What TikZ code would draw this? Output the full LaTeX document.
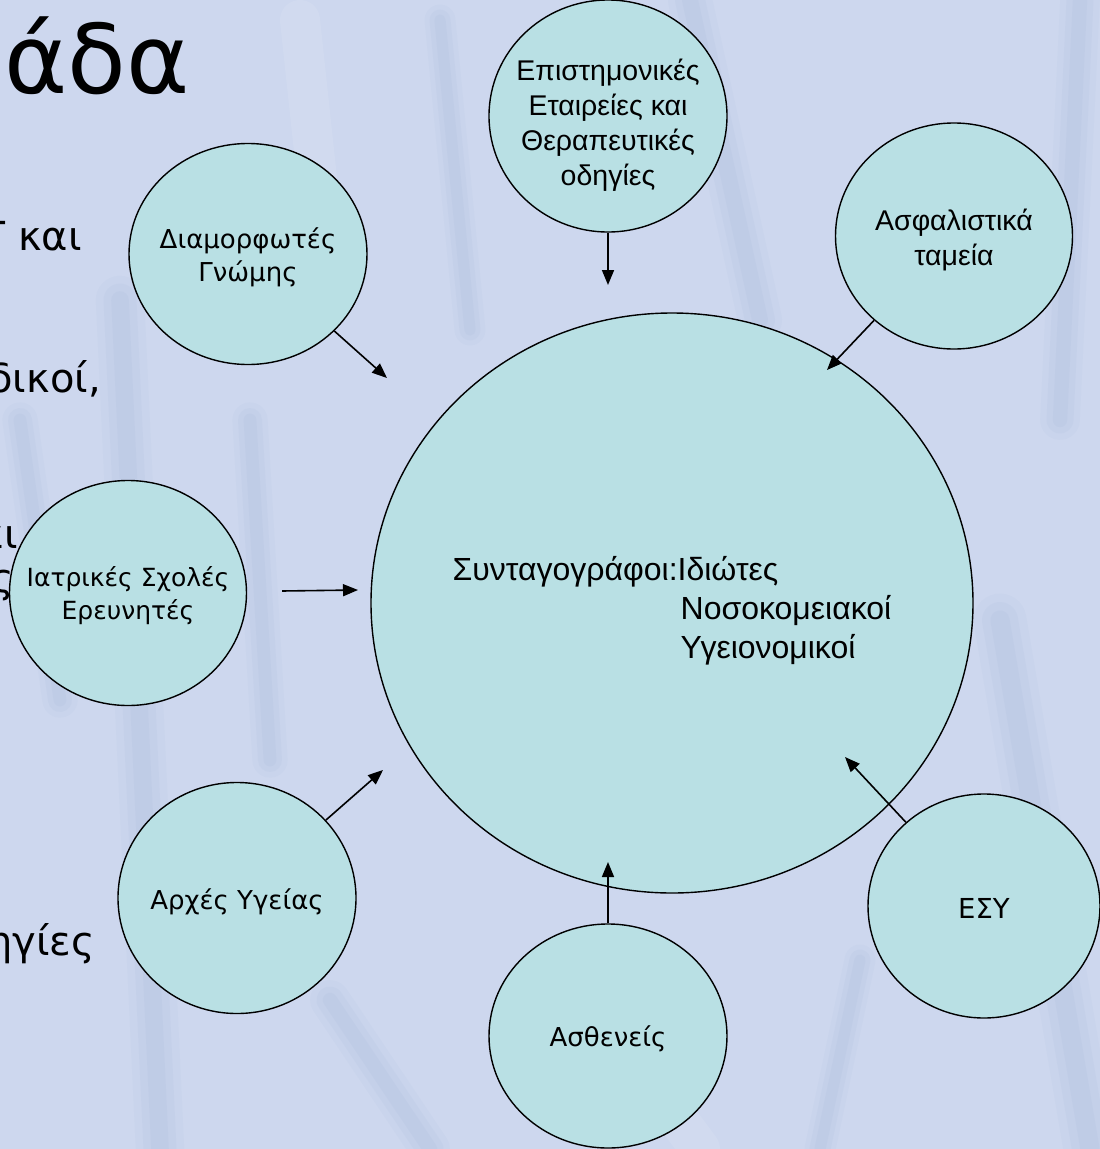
\documentclass[tikz,border=0pt]{standalone}
\usepackage{fontspec}
\setmainfont{Liberation Sans}
\newfontfamily\hum{DejaVu Sans}
\usetikzlibrary{shapes.geometric,arrows.meta}
\definecolor{bgc}{RGB}{205,215,238}
\definecolor{streakc}{RGB}{140,165,205}
\definecolor{lightc}{RGB}{222,230,244}
\definecolor{cfill}{RGB}{185,224,228}
\newcommand{\softstreak}[3]{%
  \draw[draw=streakc,line cap=round,opacity=0.06,line width=#3*2.2] #1 -- #2;
  \draw[draw=streakc,line cap=round,opacity=0.07,line width=#3*1.5] #1 -- #2;
  \draw[draw=streakc,line cap=round,opacity=0.08,line width=#3*0.8] #1 -- #2;}
\begin{document}
\begin{tikzpicture}[x=1pt,y=-1pt,
  bub/.style={ellipse,draw=black,line width=1.4pt,fill=cfill,inner sep=0pt},
  lbl/.style={align=center,inner sep=0pt},
  arial/.style={lbl,font=\fontsize{28.5}{35}\selectfont},
  humf/.style={lbl,font=\hum\fontsize{26}{33}\selectfont},
  arr/.style={line width=1.6pt,-{Triangle[length=15pt,width=12pt]}},
  bgtxt/.style={font=\hum\fontsize{40}{48}\selectfont,inner sep=0pt,text=black}
]
\useasboundingbox (0,0) rectangle (1100,1149);
\fill[bgc] (0,0) rectangle (1100,1149);
\begin{scope}
\clip (0,0) rectangle (1100,1149);
% soft background texture
\softstreak{(120,300)}{(160,1149)}{22pt}
\softstreak{(250,420)}{(270,760)}{16pt}
\softstreak{(690,0)}{(760,320)}{20pt}
\softstreak{(1080,0)}{(1060,420)}{18pt}
\softstreak{(1000,620)}{(1090,1149)}{24pt}
\softstreak{(330,1000)}{(430,1149)}{18pt}
\softstreak{(860,960)}{(820,1149)}{14pt}
\softstreak{(440,20)}{(470,330)}{14pt}
\softstreak{(20,420)}{(60,700)}{16pt}
\draw[draw=lightc,line width=40pt,opacity=0.25,line cap=round] (300,20) -- (330,300);
\draw[draw=lightc,line width=40pt,opacity=0.25,line cap=round] (560,960) -- (700,1149);
% partial slide text behind the diagram
\node[anchor=base east,font=\hum\fontsize{96}{100}\selectfont,inner sep=0pt] (s0) at (190,93) {άδα};
\node[bgtxt,anchor=base east] (s1) at (82,250) {Γ και};
\node[bgtxt,anchor=base east] (s2) at (101,392) {δικοί,};
\node[bgtxt,anchor=base east] (s3) at (18,548) {και};
\node[bgtxt,anchor=base east] (s4) at (14,592) {ς};
\node[bgtxt,anchor=base east] (s5) at (95,955) {ηγίες};
\end{scope}

% central circle
\node[bub,minimum width=602pt,minimum height=580pt,
  label={[lbl,font=\fontsize{32}{39}\selectfont,align=left,yshift=-8pt]center:Συνταγογράφοι:Ιδιώτες\\\hspace*{228pt}Νοσοκομειακοί\\\hspace*{228pt}Υγειονομικοί}] (c) at (672,603) {};

% surrounding circles
\node[bub,minimum width=238pt,minimum height=232pt,
  label={[arial,yshift=-9pt]center:Επιστημονικές\\Εταιρείες και\\Θεραπευτικές\\οδηγίες}] (epi) at (608,116) {};
\node[bub,minimum width=238pt,minimum height=221pt,
  label={[humf,yshift=-3pt]center:Διαμορφωτές\\Γνώμης}] (dia) at (248,254) {};
\node[bub,minimum width=237pt,minimum height=226pt,
  label={[arial,yshift=-4pt]center:Ασφαλιστικά\\ταμεία}] (asf) at (954,236) {};
\node[bub,minimum width=237pt,minimum height=225pt,
  label={[humf,font=\hum\fontsize{25}{33}\selectfont,yshift=-3pt]center:Ιατρικές Σχολές\\Ερευνητές}] (iat) at (128,593) {};
\node[bub,minimum width=238pt,minimum height=231pt,
  label={[humf,yshift=-4pt]center:Αρχές Υγείας}] (arx) at (237,898) {};
\node[bub,minimum width=238pt,minimum height=224pt,
  label={[humf,yshift=-3pt]center:Ασθενείς}] (ast) at (608,1036) {};
\node[bub,minimum width=232pt,minimum height=224pt,
  label={[humf,font=\hum\fontsize{27.5}{33}\selectfont,yshift=-2pt]center:ΕΣΥ}] (esy) at (984,906) {};

% arrow tips
\coordinate (tepi) at (608,285);
\coordinate (tdia) at (387,378);
\coordinate (tasf) at (827,370);
\coordinate (tiat) at (358,590);
\coordinate (tarx) at (383,770);
\coordinate (tast) at (608,862);
\coordinate (tesy) at (845,757);

\draw[arr] (epi) -- (tepi);
\draw[arr] (dia) -- (tdia);
\draw[arr] (asf) -- (tasf);
\draw[arr,shorten <=35pt] (iat) -- (tiat);
\draw[arr] (arx) -- (tarx);
\draw[arr] (ast) -- (tast);
\draw[arr] (esy) -- (tesy);
\end{tikzpicture}
\end{document}
